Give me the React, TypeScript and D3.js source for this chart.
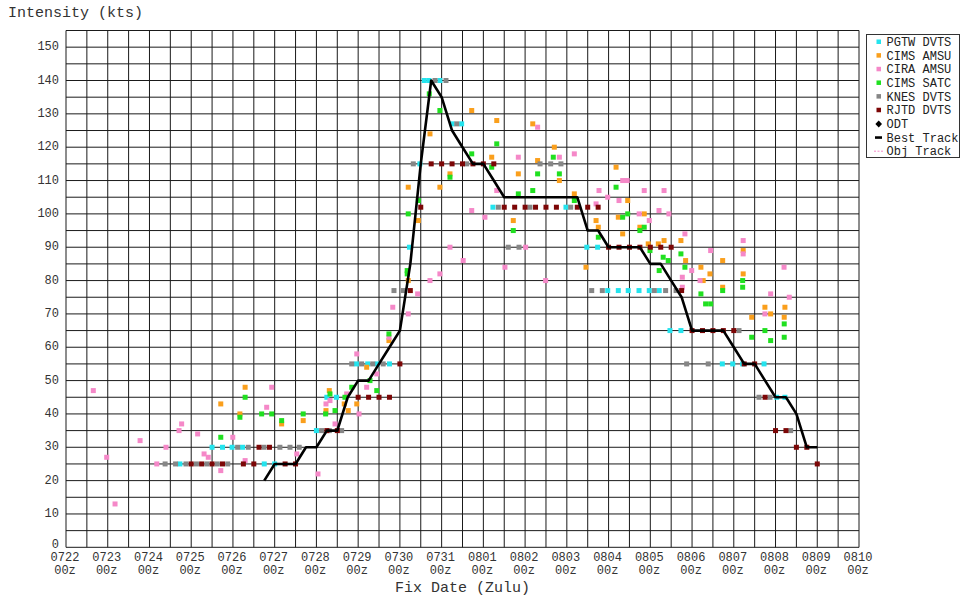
import React from "react";
import * as d3 from "d3";

// Fix times are hours after 22 July 00Z; intensities in knots.
type Fix = [number, number];

const pgtwDvts: Fix[] = [
  [65.5, 25], [84, 30], [90, 30], [95.5, 30], [101.5, 30], [114, 25], [120, 25],
  [144, 35], [150, 45], [155.5, 45], [167, 55], [173.5, 55], [179, 55], [186, 55],
  [197.5, 90], [203.5, 115], [206, 140], [208.7, 140], [215, 140], [222, 127], [227.5, 127],
  [245.5, 102], [287.5, 102], [299.5, 90], [305.7, 90], [311.5, 77], [317.6, 77], [323.3, 77],
  [329.5, 77], [335.4, 77], [341.1, 77], [347.3, 65], [353.6, 65], [377.4, 55], [383.4, 55],
  [389.1, 55], [401.4, 55], [408.7, 45], [413.4, 45],
];

const cimsAmsu: Fix[] = [
  [89, 43], [103, 48], [100, 40], [124, 37], [136.4, 38], [149.5, 41], [151.4, 47], [160, 43],
  [162.3, 41], [167.2, 43], [172.9, 54], [185.7, 62], [196.8, 108], [196.8, 80], [202.6, 98],
  [209.3, 124], [215, 108], [220.8, 112], [233.3, 131], [244.8, 117], [247.7, 128], [257.2, 98],
  [260.1, 112], [268.4, 127], [271.2, 116], [280.8, 120], [283.7, 110], [292.3, 106], [299, 84],
  [304.8, 98], [306.1, 96], [316.3, 114], [317.6, 99], [320.1, 94], [323, 104], [330, 96],
  [332.5, 100], [334.8, 91], [340.6, 91], [343.9, 92], [353.6, 92], [356.3, 86], [365.1, 84],
  [366.4, 80], [370.3, 82], [377.6, 86], [377.6, 78], [389.4, 89], [389.4, 82], [394.3, 69],
  [401.9, 72], [405.2, 70], [413.4, 72], [413, 69],
];

const ciraAmsu: Fix[] = [
  [15.7, 47], [23.4, 27], [28.2, 13], [42.6, 32], [52.2, 25], [57.5, 30], [65, 35], [66.5, 37],
  [75.7, 34], [79.4, 28], [81.8, 27], [89, 23], [95.9, 33], [103, 26], [115.4, 42], [118.3, 48],
  [132.7, 28], [144.9, 22], [149.5, 43], [151.8, 44], [154.7, 37], [161.4, 46], [167.2, 58],
  [168.5, 40], [172.9, 48], [178.7, 52], [185.7, 63], [187.9, 72], [196.8, 70], [202.2, 76],
  [209.3, 80], [215, 82], [220.8, 90], [228.4, 86], [233.3, 101], [240.9, 99], [247.7, 107],
  [252.4, 84], [260.1, 117], [264.3, 90], [271.2, 126], [275.8, 80], [283.7, 117], [292.3, 118],
  [304.8, 103], [306.5, 107], [311.5, 105], [318, 104], [320.1, 110], [322.7, 110], [329.6, 100],
  [332.5, 107], [335.4, 98], [341, 101], [343.9, 107], [346.7, 100], [354.4, 81], [354.4, 78],
  [355.9, 94], [359.8, 83], [364.6, 80], [370.7, 89], [389.4, 92], [389.4, 88], [401.9, 70],
  [405.2, 76], [412.9, 84], [415.9, 75],
];

const cimsSatc: Fix[] = [
  [89, 33], [103, 45], [100, 39], [112.5, 40], [118.3, 40], [124, 38], [136.4, 40], [149.3, 40],
  [151.8, 46], [154.7, 41], [160.4, 45], [164.3, 48], [174.8, 50], [178.7, 47], [185.7, 64],
  [196.2, 83], [196.2, 82], [196.8, 100], [202.6, 104], [208.9, 136], [215, 131], [220.8, 111],
  [233.3, 118], [244.8, 114], [247.7, 121], [257.2, 95], [260.1, 106], [268.4, 107], [271.2, 112],
  [280.2, 117], [283.7, 112], [292.3, 104], [306.1, 93], [316.3, 108], [320.1, 99], [323, 100],
  [330, 95], [332.5, 96], [335.8, 89], [341.1, 83], [343.4, 87], [346.3, 86], [353.6, 88],
  [355.9, 84], [365.1, 76], [367.8, 73], [370.7, 73], [377.6, 77], [389.1, 80], [389.1, 78],
  [394.3, 63], [401.9, 65], [405.2, 62], [413, 67], [413, 63],
];

const knesDvts: Fix[] = [
  [57, 25], [63, 25], [69, 25], [75, 25], [81, 25], [87, 25], [93, 25], [98.7, 30], [104.8, 30],
  [113.9, 30], [123, 30], [128.8, 30], [134.1, 30], [147, 35], [151.4, 35], [158.5, 35],
  [164.3, 55], [170, 55], [176.4, 55], [182.4, 55], [188.6, 77], [194, 77], [199.7, 115],
  [212.2, 140], [218.5, 140], [224.7, 127], [230.4, 115], [248.6, 102], [254.3, 90], [260.5, 90],
  [266.8, 102], [272.6, 115], [278.7, 115], [284.6, 115], [290.2, 102], [302.3, 77], [308.4, 77],
  [338.3, 77], [344.8, 77], [350.8, 77], [356.9, 55], [369.3, 55], [387, 65], [398.5, 45],
  [404.8, 45], [416.7, 35],
];

const rjtdDvts: Fix[] = [
  [72, 25], [78, 25], [84, 25], [90, 25], [102, 25], [108, 25], [111, 30], [117, 30], [126, 25],
  [132, 25], [150, 35], [156, 35], [168, 45], [174, 45], [180, 45], [186, 45], [192, 55],
  [198, 77], [204, 102], [210, 115], [216, 115], [222, 115], [228, 115], [234, 115], [240, 115],
  [246, 115], [252, 102], [258, 102], [264, 102], [270, 102], [276, 102], [282, 102], [294, 102],
  [300, 102], [306, 102], [312, 90], [318, 90], [324, 90], [330, 90], [336, 90], [342, 90],
  [348, 90], [354, 77], [360, 65], [366, 65], [372, 65], [378, 65], [384, 65], [390, 55],
  [396, 55], [402, 45], [408, 35], [414, 35], [420, 30], [426, 30], [432, 25],
];

const bestTrack: Fix[] = [
  [114, 20], [120, 25], [126, 25], [132, 25], [138, 30], [144, 30], [150, 35], [156, 35],
  [162, 45], [168, 50], [174, 50], [180, 55], [186, 60], [192, 65], [198, 85], [204, 115],
  [210, 140], [216, 135], [222, 125], [228, 120], [234, 115], [240, 115], [246, 110], [252, 105],
  [258, 105], [264, 105], [270, 105], [276, 105], [282, 105], [288, 105], [294, 105], [300, 95],
  [306, 95], [312, 90], [318, 90], [324, 90], [330, 90], [336, 85], [342, 85], [348, 80],
  [354, 75], [360, 65], [366, 65], [372, 65], [378, 65], [384, 60], [390, 55], [396, 55],
  [402, 50], [408, 45], [414, 45], [420, 40], [426, 30], [432, 30],
];

const series = [
  { name: "PGTW DVTS", color: "#24e4ee", data: pgtwDvts },
  { name: "CIMS AMSU", color: "#fa9f1c", data: cimsAmsu },
  { name: "CIRA AMSU", color: "#f588c8", data: ciraAmsu },
  { name: "CIMS SATC", color: "#20e020", data: cimsSatc },
  { name: "KNES DVTS", color: "#868686", data: knesDvts },
  { name: "RJTD DVTS", color: "#7c0606", data: rjtdDvts },
];

const yTicks = [0, 10, 20, 30, 40, 50, 60, 70, 80, 90, 100, 110, 120, 130, 140, 150];

const START = Date.UTC(2014, 6, 22);
const END = Date.UTC(2014, 7, 10);
const toDate = (h: number) => new Date(START + h * 3600e3);

const W = 962;
const H = 599;
const M = { left: 66, right: 859, top: 30.5, bottom: 547.3 };
const FONT = "'Liberation Mono', 'DejaVu Sans Mono', monospace";
const SQ = 5;

export default function App() {
  const x = d3.scaleUtc().domain([new Date(START), new Date(END)]).range([M.left, M.right]);
  const y = d3.scaleLinear().domain([0, 155]).range([M.bottom, M.top]);

  const halfDays = d3.utcHour.every(12)!.range(new Date(START), new Date(END + 1));
  const days = d3.utcDay.range(new Date(START), new Date(END + 1));
  const hGrid = d3.range(0, 156, 5);
  const fmtDay = d3.utcFormat("%m%d");
  const fmtHour = d3.utcFormat("%H");

  const line = d3
    .line<Fix>()
    .x((d) => x(toDate(d[0])))
    .y((d) => y(d[1]));

  const legendRows = [
    ...series.map((s) => ({ name: s.name, kind: "sq", color: s.color })),
    { name: "ODT", kind: "diamond", color: "#000" },
    { name: "Best Track", kind: "line", color: "#000" },
    { name: "Obj Track", kind: "dash", color: "#f588c8" },
  ];

  return (
    <svg
      width={W}
      height={H}
      style={{ position: "absolute", left: 0, top: 0, background: "#fff" }}
      fontFamily={FONT}
    >
      <rect x={0} y={0} width={W} height={H} fill="#fff" />

      {/* grid */}
      <g stroke="#1a1a1a" strokeWidth={1}>
        {halfDays.map((d, i) => (
          <line key={"v" + i} x1={x(d)} x2={x(d)} y1={M.top} y2={M.bottom} />
        ))}
        {hGrid.map((v) => (
          <line key={"h" + v} x1={M.left} x2={M.right} y1={y(v)} y2={y(v)} />
        ))}
      </g>

      {/* y tick labels */}
      <g fontSize={12} fill="#333" textAnchor="end">
        {yTicks.map((v) => (
          <text key={v} x={59} y={y(v) + (v === 0 ? 1 : 3)}>
            {v}
          </text>
        ))}
      </g>

      {/* x tick labels */}
      <g fontSize={12} fill="#333" textAnchor="middle">
        {days.map((d, i) => (
          <g key={i}>
            <text x={x(d) - 1} y={561}>
              {fmtDay(d)}
            </text>
            <text x={x(d) - 1} y={574}>
              {fmtHour(d) + "z"}
            </text>
          </g>
        ))}
      </g>

      {/* axis titles */}
      <text x={8} y={17} fontSize={15} fill="#333">
        Intensity (kts)
      </text>
      <text x={(M.left + M.right) / 2} y={592} fontSize={15} fill="#333" textAnchor="middle">
        Fix Date (Zulu)
      </text>

      {/* fixes */}
      {series.map((s) => (
        <g key={s.name} fill={s.color}>
          {s.data.map((d, i) => (
            <rect
              key={i}
              x={x(toDate(d[0])) - SQ / 2}
              y={y(d[1]) - SQ / 2}
              width={SQ}
              height={SQ}
            />
          ))}
        </g>
      ))}

      {/* best track */}
      <path d={line(bestTrack) ?? ""} fill="none" stroke="#000" strokeWidth={2.6} strokeLinejoin="round" />

      {/* legend */}
      <g>
        <rect x={866.5} y={34.5} width={93} height={123} fill="#fff" stroke="#333" strokeWidth={1} />
        {legendRows.map((r, i) => {
          const cy = 42 + i * 13.65;
          return (
            <g key={r.name}>
              {r.kind === "sq" && <rect x={876.5} y={cy - 2.5} width={4.5} height={4.5} fill={r.color} />}
              {r.kind === "diamond" && (
                <path d={`M878.7,${cy - 3.5}L882,${cy}L878.7,${cy + 3.5}L875.4,${cy}Z`} fill={r.color} />
              )}
              {r.kind === "line" && (
                <line x1={875} x2={882} y1={cy} y2={cy} stroke={r.color} strokeWidth={2.6} />
              )}
              {r.kind === "dash" && (
                <line x1={874} x2={883} y1={cy} y2={cy} stroke={r.color} strokeWidth={1} strokeDasharray="2,1.5" />
              )}
              <text x={886.5} y={cy + 4} fontSize={12} fill="#222">
                {r.name}
              </text>
            </g>
          );
        })}
      </g>
    </svg>
  );
}
